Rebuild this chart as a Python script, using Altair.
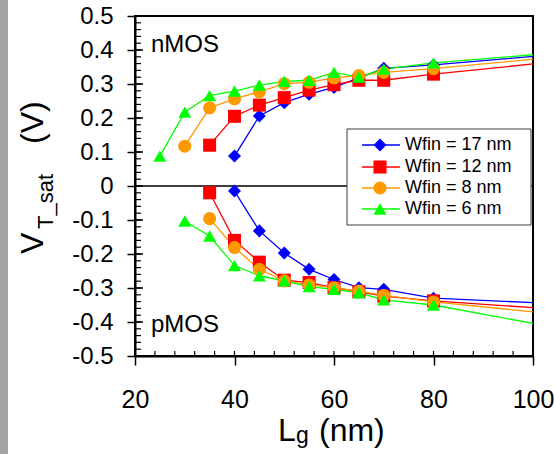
import altair as alt
import pandas as pd

FONT = "Liberation Sans"

# ---- series definitions ----
series_labels = ["Wfin = 17 nm", "Wfin = 12 nm", "Wfin = 8 nm", "Wfin = 6 nm"]
series_colors = ["#0000ff", "#ff0000", "#ff9900", "#00ff00"]
series_shapes = ["diamond", "square", "circle", "triangle-up"]

# ---- measured points (Lg in nm, V in volts) ----
lg_n17 = [40, 45, 50, 55, 60, 65, 70, 80]
v_n17 = [0.088, 0.206, 0.245, 0.270, 0.290, 0.318, 0.346, 0.356]
lg_p17 = [40, 45, 50, 55, 60, 65, 70, 80]
v_p17 = [-0.015, -0.132, -0.197, -0.245, -0.275, -0.299, -0.304, -0.330]

lg_n12 = [35, 40, 45, 50, 55, 60, 65, 70, 80]
v_n12 = [0.120, 0.205, 0.238, 0.260, 0.282, 0.298, 0.311, 0.311, 0.329]
lg_p12 = [35, 40, 45, 50, 55, 60, 65, 70, 80]
v_p12 = [-0.020, -0.160, -0.224, -0.277, -0.284, -0.299, -0.311, -0.324, -0.338]

lg_n8 = [30, 35, 40, 45, 50, 55, 60, 65, 70, 80]
v_n8 = [0.117, 0.230, 0.256, 0.277, 0.301, 0.305, 0.318, 0.325, 0.334, 0.345]
lg_p8 = [35, 40, 45, 50, 55, 60, 65, 70, 80]
v_p8 = [-0.096, -0.181, -0.245, -0.279, -0.291, -0.299, -0.309, -0.322, -0.341]

lg_n6 = [25, 30, 35, 40, 45, 50, 55, 60, 65, 70, 80]
v_n6 = [0.088, 0.217, 0.266, 0.279, 0.297, 0.308, 0.311, 0.334, 0.320, 0.344, 0.362]
lg_p6 = [30, 35, 40, 45, 50, 55, 60, 65, 70, 80]
v_p6 = [-0.103, -0.147, -0.234, -0.264, -0.279, -0.296, -0.304, -0.314, -0.335, -0.350]

# trend lines continue to Lg = 100 nm (no marker there)
lg_end = 100
v_n_end = [0.381, 0.359, 0.373, 0.386]
v_p_end = [-0.343, -0.358, -0.370, -0.404]

# ---- axis ticks ----
x_ticks = [20, 40, 60, 80, 100]
y_ticks = [-0.5, -0.4, -0.3, -0.2, -0.1, 0.0, 0.1, 0.2, 0.3, 0.4, 0.5]
x_minor = [v for v in range(24, 100, 4)]
y_minor = [round(-0.48 + 0.02 * i, 2) for i in range(49)]

# ---- build tables ----
pts_rows = []
line_rows = []
groups = [
    (series_labels[0], lg_n17, v_n17, lg_p17, v_p17, 0),
    (series_labels[1], lg_n12, v_n12, lg_p12, v_p12, 1),
    (series_labels[2], lg_n8, v_n8, lg_p8, v_p8, 2),
    (series_labels[3], lg_n6, v_n6, lg_p6, v_p6, 3),
]
for name, lgn, vn, lgp, vp, k in groups:
    for branch, lgs, vs, vend in (("n", lgn, vn, v_n_end[k]), ("p", lgp, vp, v_p_end[k])):
        for a, b in zip(lgs, vs):
            pts_rows.append({"Lg": a, "V": b, "series": name, "branch": branch})
            line_rows.append({"Lg": a, "V": b, "series": name, "branch": branch})
        line_rows.append({"Lg": lg_end, "V": vend, "series": name, "branch": branch})

pts = pd.DataFrame(pts_rows)
lines_df = pd.DataFrame(line_rows)

xs = alt.Scale(domain=[20, 100], nice=False)
ys = alt.Scale(domain=[-0.5, 0.5], nice=False)
cs = alt.Scale(domain=series_labels, range=series_colors)
ss = alt.Scale(domain=series_labels, range=series_shapes)

W, H = 398, 340

x_axis = alt.Axis(values=x_ticks, title=None, grid=False, tickSize=9, tickWidth=1.5,
                  tickColor="black", domainColor="black", domainWidth=2,
                  labelFont=FONT, labelFontSize=25, labelColor="black",
                  labelPadding=22, labelFlush=False, labelOverlap=False, labelBound=False)
y_axis = alt.Axis(values=y_ticks, title=None, grid=False, tickSize=8, tickWidth=1.5,
                  tickColor="black", domainColor="black", domainWidth=2,
                  labelFont=FONT, labelFontSize=24, labelColor="black",
                  labelPadding=14, labelFlush=False, labelOverlap=False, labelBound=False,
                  labelExpr="abs(datum.value) < 1e-9 ? '0' : (datum.value < 0 ? '-' : '') + format(abs(datum.value), '.1f')")

X = lambda f: alt.X(f, scale=xs, axis=x_axis)
Y = lambda f: alt.Y(f, scale=ys, axis=y_axis)

one = pd.DataFrame({"k": [0]})

strip = alt.Chart(one).mark_rect(color="#a3a3a3").encode(
    x=alt.value(-135), x2=alt.value(-127), y=alt.value(-16), y2=alt.value(438))

zero_line = alt.Chart(pd.DataFrame({"V": [0.0]})).mark_rule(color="black", strokeWidth=1.5).encode(
    y=Y("V:Q"))

xtick_in = alt.Chart(pd.DataFrame({"Lg": x_minor})).mark_rule(color="black", strokeWidth=1.2).encode(
    x=X("Lg:Q"), y=alt.value(H), y2=alt.value(H - 5))

ytick_min = alt.Chart(pd.DataFrame({"V": y_minor})).mark_rule(color="black", strokeWidth=1.2).encode(
    y=Y("V:Q"), x=alt.value(0), x2=alt.value(6))
ytick_maj = alt.Chart(pd.DataFrame({"V": y_ticks[1:-1]})).mark_rule(color="black", strokeWidth=1.5).encode(
    y=Y("V:Q"), x=alt.value(0), x2=alt.value(8))

lines = alt.Chart(lines_df).mark_line(strokeWidth=1.3).encode(
    x=X("Lg:Q"),
    y=Y("V:Q"),
    color=alt.Color("series:N", scale=cs, legend=None),
    detail="branch:N",
    order="Lg:Q",
)

points = alt.Chart(pts).mark_point(filled=True, size=170, opacity=1).encode(
    x=X("Lg:Q"),
    y=Y("V:Q"),
    color=alt.Color("series:N", scale=cs, legend=None),
    shape=alt.Shape("series:N", scale=ss, legend=None),
)

def txt(s, x, y, size, angle=None):
    kw = dict(align="left", baseline="alphabetic", font=FONT, fontSize=size, color="black")
    if angle is not None:
        kw["angle"] = angle
    return alt.Chart(one).mark_text(text=s, **kw).encode(x=alt.value(x), y=alt.value(y))

annots = [
    txt("nMOS", 16, 36, 24),
    txt("pMOS", 16, 316, 24),
    txt("L", 143, 425, 32),
    txt("g", 161, 427, 23),
    txt("(nm)", 184, 425, 32),
    txt("V", -92, 238, 32, 270),
    txt("T_sat", -82, 213, 22, 270),
    txt("(V)", -92, 128, 32, 270),
]

main = alt.layer(strip, zero_line, xtick_in, ytick_min, ytick_maj, lines, points, *annots)

# ---- legend (drawn as a small table of entries) ----
leg_df = pd.DataFrame({"series": series_labels, "row": [0, 1, 2, 3]})
rows = alt.Scale(domain=[0, 1, 2, 3], range=[129, 151, 172, 193])

leg_box = alt.Chart(one).mark_rect(fill="white", stroke="#3a3a3a", strokeWidth=1).encode(
    x=alt.value(212), x2=alt.value(396), y=alt.value(113), y2=alt.value(209))
leg_line = alt.Chart(leg_df).mark_rule(strokeWidth=1.3).encode(
    x=alt.value(227), x2=alt.value(265),
    y=alt.Y("row:Q", scale=rows, axis=None),
    color=alt.Color("series:N", scale=cs, legend=None))
leg_pt = alt.Chart(leg_df).mark_point(filled=True, size=170, opacity=1).encode(
    x=alt.value(245),
    y=alt.Y("row:Q", scale=rows, axis=None),
    color=alt.Color("series:N", scale=cs, legend=None),
    shape=alt.Shape("series:N", scale=ss, legend=None))
leg_txt = alt.Chart(leg_df).mark_text(align="left", baseline="middle", font=FONT,
                                      fontSize=18, color="black").encode(
    x=alt.value(270),
    y=alt.Y("row:Q", scale=rows, axis=None),
    text="series:N")

legend = alt.layer(leg_box, leg_line, leg_pt, leg_txt)

chart = alt.layer(main, legend).resolve_scale(y="independent").properties(
    width=W, height=H,
    padding={"left": 135, "top": 16, "right": 21, "bottom": 98},
    autosize=alt.AutoSizeParams(type="none"),
    background="white",
).configure_view(stroke="black", strokeWidth=2)

chart.save("out.html", embed_options={"renderer": "svg", "actions": False})
